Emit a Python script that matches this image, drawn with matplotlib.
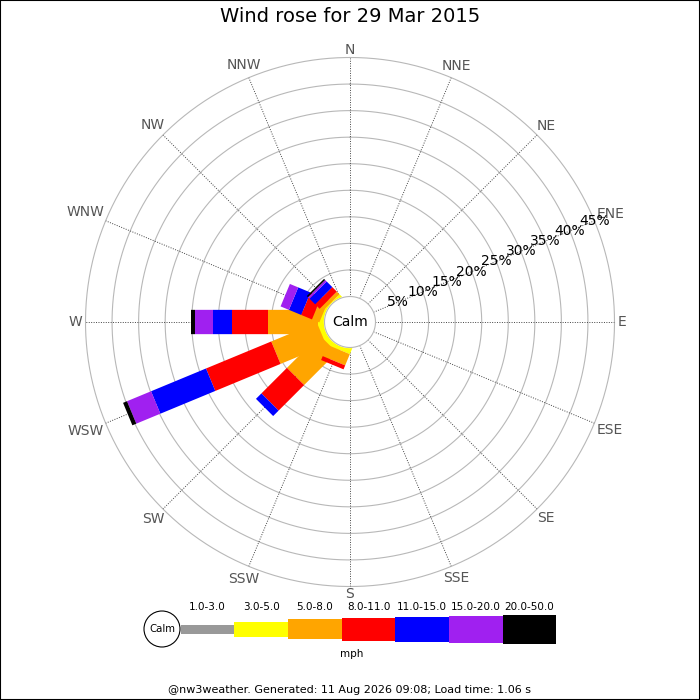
import numpy as np
import matplotlib
matplotlib.use('Agg')
import matplotlib.pyplot as plt
from matplotlib.patches import Rectangle, Circle

# data: % of time per direction for each speed bin (mph)
directions = ['N', 'NNE', 'NE', 'ENE', 'E', 'ESE', 'SE', 'SSE',
              'S', 'SSW', 'SW', 'WSW', 'W', 'WNW', 'NW', 'NNW']
speed_bins = ['1.0-3.0', '3.0-5.0', '5.0-8.0', '8.0-11.0', '11.0-15.0', '15.0-20.0', '20.0-50.0']
#            N  NNE NE ENE E ESE SE SSE S  SSW  SW    WSW   W    WNW  NW   NNW
bin_1_3   = [0, 0, 0, 0, 0, 0, 0, 0, 0, 0.0, 0.0,  0.0,  0.0, 0.0, 0.0, 0]
bin_3_5   = [0, 0, 0, 0, 0, 0, 0, 0, 0, 0.8, 1.0,  1.0,  1.2, 0.5, 0.3, 0]
bin_5_8   = [0, 0, 0, 0, 0, 0, 0, 0, 0, 2.3, 8.7,  9.3,  9.4, 1.5, 0.7, 0]
bin_8_11  = [0, 0, 0, 0, 0, 0, 0, 0, 0, 0.8, 6.8, 13.3,  6.9, 2.2, 1.2, 0]
bin_11_15 = [0, 0, 0, 0, 0, 0, 0, 0, 0, 0.0, 1.45, 11.2, 3.5, 2.5, 1.5, 0]
bin_15_20 = [0, 0, 0, 0, 0, 0, 0, 0, 0, 0.0, 0.0,  4.9,  3.4, 1.7, 0.4, 0]
bin_20_50 = [0, 0, 0, 0, 0, 0, 0, 0, 0, 0.0, 0.0,  0.8,  0.7, 0.0, 0.3, 0]
bin_freqs = [bin_1_3, bin_3_5, bin_5_8, bin_8_11, bin_11_15, bin_15_20, bin_20_50]
rings = [5, 10, 15, 20, 25, 30, 35, 40, 45]

colours = ['#999999', '#ffff00', '#ffa500', '#ff0000', '#0000ff', '#a020f0', '#000000']
legend_heights = [9, 15, 20, 23, 25, 27, 29]

fig = plt.figure(figsize=(7, 7), dpi=100)

# polar axes placed so the centre sits at (350, 322) px
cx, cy, r_out = 350, 322, 264.5
ax = fig.add_axes([(cx - r_out) / 700, (700 - cy - r_out) / 700, 2 * r_out / 700, 2 * r_out / 700],
                  projection='polar')
ax.set_theta_zero_location('N')
ax.set_theta_direction(-1)
calm = 4.8
rmax = calm + rings[-1]
ax.set_ylim(0, rmax)
ax.axis('off')

circ = np.linspace(0, 2 * np.pi, 400)
for r in rings:
    ax.plot(circ, np.full_like(circ, calm + r), color='#b8b8b8', lw=0.8, zorder=1, clip_on=False)
thetas = np.deg2rad(np.arange(len(directions)) * 22.5)
for th in thetas:
    ax.plot([th, th], [calm, rmax], color='#444444', lw=0.7, ls=(0, (1, 1.5)), zorder=1)

# stacked bars, one bin at a time
cum = np.zeros(len(directions))
for i, vals in enumerate(bin_freqs):
    vals = np.array(vals)
    for d, th in enumerate(thetas):
        if vals[d] <= 0:
            continue
        r0 = 0 if cum[d] == 0 else calm + cum[d]
        r1 = calm + cum[d] + vals[d]
        ax.plot([th, th], [r0, r1], color=colours[i], lw=17.5, solid_capstyle='butt', zorder=3)
    cum += vals

# calm circle
ax.fill(circ, np.full_like(circ, calm), color='white', zorder=5)
ax.plot(circ, np.full_like(circ, calm), color='#b8b8b8', lw=0.8, zorder=6)
ax.text(0, 0, 'Calm', ha='center', va='center', fontsize=10, zorder=7)

for r in rings:
    ax.text(np.deg2rad(67.5), calm + r, f'{r}%', ha='center', va='center', fontsize=10, zorder=4)

# direction labels, pushed out by their own size
renderer = fig.canvas.get_renderer()
for name, th in zip(directions, thetas):
    a = ax.annotate(name, (th, rmax), xytext=(0, 0), textcoords='offset pixels',
                    ha='center', va='center', fontsize=10, color='#555555', annotation_clip=False)
    w = a.get_window_extent(renderer).width
    d = 3.0 + (w / 2) * abs(np.sin(th)) + 4.5 * abs(np.cos(th))
    a.xyann = (d * np.sin(th), d * np.cos(th))

fig.text(0.5, 1 - 17 / 700, 'Wind rose for 29 Mar 2015', ha='center', va='center', fontsize=14)

# legend in pixel coordinates
lax = fig.add_axes([0, 0, 1, 1], zorder=-1)
lax.set_xlim(0, 700)
lax.set_ylim(700, 0)
lax.axis('off')
lax.add_patch(Circle((162, 629), 18, fc='white', ec='black', lw=0.8))
lax.text(162, 629, 'Calm', ha='center', va='center', fontsize=7.3)
seg = 53.7
for i, (lab, col) in enumerate(zip(speed_bins, colours)):
    x0 = 180.5 + i * seg
    h = legend_heights[i]
    lax.add_patch(Rectangle((x0, 629 - h / 2), seg, h, color=col, lw=0))
    lax.text(x0 + seg / 2, 607, lab, ha='center', va='center', fontsize=7.5)
lax.text(352, 654, 'mph', ha='center', va='center', fontsize=7.5)
lax.text(350, 690, '@nw3weather. Generated: 11 Aug 2026 09:08; Load time: 1.06 s',
         ha='center', va='center', fontsize=8)

fig.add_artist(Rectangle((0, 0), 1, 1, transform=fig.transFigure, fill=False, ec='black', lw=1.5))

fig.savefig('out.png', dpi=100)
